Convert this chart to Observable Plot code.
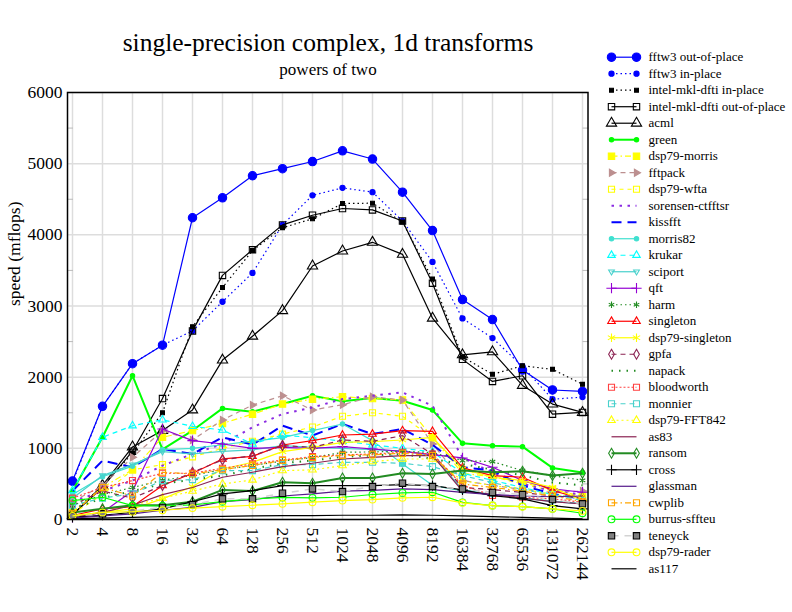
<!DOCTYPE html>
<html><head><meta charset="utf-8">
<script src="https://cdn.jsdelivr.net/npm/d3@7"></script>
<script src="https://cdn.jsdelivr.net/npm/@observablehq/plot@0.6"></script>
<style>
body{margin:0;background:#fff;}
#wrap{position:relative;width:792px;height:612px;font-family:"Liberation Serif","Times New Roman",serif;color:#000;overflow:hidden;}
#wrap svg, #wrap svg text{font-family:"Liberation Serif","Times New Roman",serif !important;}
.t{position:absolute;white-space:nowrap;transform:translateX(-50%);line-height:normal;}
#main{position:absolute;left:0;top:0;}
#legend{position:absolute;left:600px;top:40px;}
</style></head><body>
<div id="wrap">
<div class="t" style="left:328px;top:28px;font-size:25.5px;">single-precision complex, 1d transforms</div>
<div class="t" style="left:328px;top:60px;font-size:17px;">powers of two</div>
<div id="main"></div>
<div id="legend"></div>
</div>
<script>
// ---------------- data ----------------
const sizes = ["2","4","8","16","32","64","128","256","512","1024","2048","4096","8192","16384","32768","65536","131072","262144"];
const yTicks = [0, 1000, 2000, 3000, 4000, 5000, 6000];
const yMinorTicks = [500, 1500, 2500, 3500, 4500, 5500];

const fftw3OutOfPlace = [540, 1590, 2190, 2450, 4240, 4520, 4830, 4930, 5030, 5180, 5065, 4600, 4060, 3090, 2810, 2100, 1820, 1800];
const fftw3InPlace    = [520, 1590, 2190, 2450, 2650, 3060, 3465, 4140, 4555, 4660, 4600, 4195, 3620, 2825, 2550, 2150, 1690, 1720];
const mklInPlace      = [90, 470, 930, 1500, 2710, 3260, 3780, 4100, 4225, 4440, 4445, 4180, 3380, 2285, 2040, 2160, 2110, 1900];
const mklOutOfPlace   = [70, 450, 960, 1700, 2650, 3430, 3790, 4140, 4275, 4370, 4350, 4195, 3320, 2250, 1940, 2020, 1480, 1505];
const acml            = [60, 480, 1020, 1250, 1540, 2240, 2576, 2935, 3562, 3773, 3895, 3726, 2829, 2314, 2356, 1884, 1622, 1505];
const green           = [400, 1155, 2020, 985, 1250, 1561, 1515, 1622, 1739, 1660, 1706, 1669, 1538, 1070, 1038, 1024, 725, 659];
const dsp79Morris     = [100, 450, 700, 1155, 1250, 1350, 1480, 1622, 1690, 1725, 1700, 1680, 1150, 650, 600, 520, 420, 330];
const fftpack         = [250, 477, 874, 1248, 1117, 1398, 1608, 1739, 1538, 1613, 1725, 1678, 1061, 547, 480, 420, 380, 400];
const dsp79Wfta       = [80, 350, 697, 771, 880, 1000, 1100, 1200, 1300, 1450, 1500, 1450, 1150, 700, 600, 500, 400, 320];
const sorensen        = [250, 400, 547, 757, 921, 1061, 1295, 1482, 1575, 1692, 1739, 1786, 1599, 874, 650, 500, 400, 350];
const kissfft         = [400, 827, 734, 991, 921, 1155, 1052, 1318, 1180, 1342, 1201, 1272, 1050, 734, 687, 477, 360, 290];
const morris82        = [350, 600, 750, 980, 1000, 1050, 1100, 1150, 1250, 1342, 1108, 780, 480, 400, 350, 300, 260, 220];
const krukar          = [407, 1155, 1318, 1400, 1309, 1257, 1062, 1187, 1150, 1100, 1050, 1000, 950, 650, 550, 450, 350, 300];
const sciport         = [300, 617, 771, 954, 921, 958, 977, 1038, 1014, 1000, 980, 960, 900, 420, 350, 300, 250, 220];
const qft             = [30, 100, 400, 1272, 1108, 1061, 1000, 1014, 1000, 1024, 991, 958, 912, 865, 734, 547, 430, 383];
const harm            = [200, 350, 450, 550, 620, 700, 760, 820, 870, 944, 950, 960, 940, 827, 813, 687, 617, 550];
const singleton       = [56, 150, 182, 477, 650, 851, 888, 1047, 1108, 1187, 1201, 1248, 1239, 725, 617, 594, 407, 290];
const dsp79Singleton  = [50, 100, 150, 290, 463, 710, 804, 954, 1014, 1085, 1094, 1117, 1155, 710, 594, 547, 453, 266];
const gpfa            = [200, 400, 300, 477, 664, 837, 898, 1038, 1014, 1117, 1099, 1178, 921, 450, 420, 380, 330, 300];
const napack          = [150, 300, 400, 500, 560, 617, 710, 790, 830, 880, 900, 920, 850, 780, 700, 620, 520, 480];
const bloodworth      = [300, 450, 547, 650, 650, 720, 781, 836, 883, 907, 921, 944, 921, 480, 337, 313, 290, 243];
const monnier         = [200, 300, 360, 547, 560, 687, 687, 771, 771, 804, 804, 790, 743, 617, 520, 420, 350, 266];
const dsp79FFT842     = [50, 100, 200, 300, 400, 500, 556, 687, 697, 757, 813, 850, 850, 547, 477, 430, 350, 300];
const as83            = [30, 100, 200, 350, 450, 594, 664, 743, 790, 850, 874, 898, 898, 400, 350, 300, 250, 220];
const ransom          = [100, 150, 200, 200, 250, 416, 400, 524, 510, 584, 584, 650, 640, 687, 664, 678, 617, 650];
const cross           = [30, 60, 100, 150, 250, 360, 407, 477, 477, 477, 477, 491, 477, 416, 336, 290, 196, 150];
const glassman        = [20, 50, 80, 130, 170, 250, 280, 330, 360, 400, 410, 430, 420, 380, 350, 330, 320, 330];
const cwplib          = [80, 450, 330, 664, 640, 700, 760, 830, 870, 900, 910, 930, 900, 500, 450, 400, 330, 250];
const burrusSffteu    = [266, 313, 196, 190, 206, 250, 290, 310, 304, 313, 351, 374, 383, 240, 196, 182, 150, 88];
const teneyck         = [50, 80, 120, 170, 210, 290, 290, 369, 430, 393, 463, 510, 463, 430, 380, 350, 280, 220];
const dsp79Rader      = [50, 100, 110, 130, 160, 180, 200, 220, 243, 266, 280, 304, 313, 234, 196, 180, 150, 120];
const as117           = [10, 20, 30, 40, 40, 45, 50, 55, 55, 60, 60, 65, 60, 50, 40, 30, 20, 10];

const seriesNames = ["fftw3 out-of-place","fftw3 in-place","intel-mkl-dfti in-place","intel-mkl-dfti out-of-place","acml","green","dsp79-morris","fftpack","dsp79-wfta","sorensen-ctfftsr","kissfft","morris82","krukar","sciport","qft","harm","singleton","dsp79-singleton","gpfa","napack","bloodworth","monnier","dsp79-FFT842","as83","ransom","cross","glassman","cwplib","burrus-sffteu","teneyck","dsp79-rader","as117"];
const seriesValues = [fftw3OutOfPlace, fftw3InPlace, mklInPlace, mklOutOfPlace, acml, green, dsp79Morris, fftpack, dsp79Wfta, sorensen, kissfft, morris82, krukar, sciport, qft, harm, singleton, dsp79Singleton, gpfa, napack, bloodworth, monnier, dsp79FFT842, as83, ransom, cross, glassman, cwplib, burrusSffteu, teneyck, dsp79Rader, as117];

// ---------------- styles ----------------
const triRight = {draw(ctx, size){ const s = Math.sqrt(size/Math.PI); ctx.moveTo(s*1.25,0); ctx.lineTo(-s*0.65,s*1.1); ctx.lineTo(-s*0.65,-s*1.1); ctx.closePath(); }};
const triDown = {draw(ctx, size){ const s = Math.sqrt(size/Math.PI); ctx.moveTo(0,s*1.25); ctx.lineTo(s*1.1,-s*0.65); ctx.lineTo(-s*1.1,-s*0.65); ctx.closePath(); }};
const YEL = "#ffff00", TURQ = "#40e0d0", FG = "#228b22";
const styles = [
  {c:"#0000ff", w:1.2, d:null,      sym:"circle",  r:4.2, fill:true},
  {c:"#0000ff", w:1.2, d:"1.5,3",   sym:"circle",  r:2.6, fill:true},
  {c:"#000000", w:1.2, d:"1.5,3",   sym:"square",  r:2.2, fill:true},
  {c:"#000000", w:1.2, d:null,      sym:"square",  r:3.6, fill:false},
  {c:"#000000", w:1.2, d:null,      sym:"triangle",r:3.8, fill:false},
  {c:"#00ff00", w:2,   d:null,      sym:"circle",  r:2.2, fill:true},
  {c:YEL,       w:1.2, d:"6,3,1.5,3",sym:"square", r:3.6, fill:true},
  {c:"#bc8f8f", w:1.2, d:"5,4",     sym:triRight,  r:3.2, fill:true},
  {c:YEL,       w:1.2, d:"4,4",     sym:"square",  r:3.4, fill:false},
  {c:"#8a2be2", w:2,   d:"2.5,5.5", sym:null},
  {c:"#0000ff", w:2,   d:"10,6",    sym:null},
  {c:TURQ,      w:1.2, d:null,      sym:"circle",  r:2.2, fill:true},
  {c:"#00ffff", w:1.2, d:"5,4",     sym:"triangle",r:2.8, fill:false},
  {c:"#48d1cc", w:1.2, d:null,      sym:triDown,   r:2.6, fill:false},
  {c:"#9400d3", w:1.2, d:null,      sym:"plus",    r:3.4, fill:false},
  {c:FG,        w:1.2, d:"1.5,3",   sym:"asterisk",r:3,   fill:false},
  {c:"#ff0000", w:1.2, d:null,      sym:"triangle",r:2.8, fill:false},
  {c:YEL,       w:1.2, d:null,      sym:"asterisk",r:4,   fill:false},
  {c:"#8b2252", w:1.2, d:"5,4",     sym:"diamond", r:3,   fill:false},
  {c:FG,        w:2,   d:"1.5,6",   sym:null},
  {c:"#ff4040", w:1.2, d:"2,2",     sym:"square",  r:3.4, fill:false},
  {c:"#48d1cc", w:1.2, d:"5,4",     sym:"square",  r:3.4, fill:false},
  {c:YEL,       w:1.2, d:"2,3",     sym:"triangle",r:2.8, fill:false},
  {c:"#8b2252", w:1.2, d:null,      sym:null},
  {c:FG,        w:2,   d:null,      sym:"diamond", r:3,   fill:false},
  {c:"#000000", w:1.2, d:null,      sym:"plus",    r:3.4, fill:false},
  {c:"#551a8b", w:1.2, d:null,      sym:null},
  {c:"#ffa500", w:1.2, d:"6,3,1.5,3",sym:"square", r:3.4, fill:false},
  {c:"#00ff00", w:1.2, d:null,      sym:"circle",  r:3.4, fill:false},
  {c:"#d3d3d3", w:1.5, d:"7,6",     sym:"square",  r:3.6, fill:"#808080", stroke:"#000"},
  {c:YEL,       w:1.2, d:null,      sym:"circle",  r:3.4, fill:false},
  {c:"#000000", w:1.2, d:null,      sym:null}
];

// ---------------- tidy rows ----------------
const rows = seriesNames.flatMap((name, k) => seriesValues[k].map((v, i) => ({series: name, size: sizes[i], value: v})));

function seriesMarks(data, xKey, yKey, st) {
  const m = [Plot.line(data, {x: xKey, y: yKey, stroke: st.c, strokeWidth: st.w, strokeDasharray: st.d || undefined, strokeLinecap: "butt", strokeLinejoin: "round"})];
  if (st.sym) {
    const filled = st.fill;
    m.push(Plot.dot(data, {
      x: xKey, y: yKey, symbol: st.sym, r: st.r,
      fill: filled ? (typeof filled === "string" ? filled : st.c) : "none",
      stroke: st.stroke || st.c, strokeWidth: 1.1
    }));
  }
  return m;
}

const lineMarks = seriesNames.flatMap((name, k) => seriesMarks(rows.filter(d => d.series === name), "size", "value", styles[k]));
const FONT = "'Liberation Serif', 'Times New Roman', serif";

const main = Plot.plot({
  width: 600, height: 612,
  marginLeft: 67, marginRight: 12.5, marginTop: 92, marginBottom: 93,
  style: {fontFamily: FONT, fontSize: "17.5px", background: "transparent", color: "#000", overflow: "visible"},
  x: {type: "point", domain: sizes, padding: 0},
  y: {domain: [0, 6000]},
  marks: [
    Plot.gridX({stroke: "#dddddd", strokeOpacity: 1, strokeWidth: 1.5}),
    Plot.gridY(yTicks, {stroke: "#dddddd", strokeOpacity: 1, strokeWidth: 1.5}),
    Plot.axisY(yMinorTicks, {anchor: "left", tickSize: -6, tickFormat: () => "", stroke: "#bbbbbb", label: null}),
    Plot.axisY(yMinorTicks, {anchor: "right", tickSize: -6, tickFormat: () => "", stroke: "#bbbbbb", label: null}),
    ...lineMarks,
    Plot.axisY(yTicks, {anchor: "left", tickSize: 0, tickPadding: 5, label: null, tickFormat: d => String(d), fontFamily: FONT}),
    Plot.axisX({anchor: "bottom", tickSize: 0, tickPadding: 8, tickRotate: 90, label: null, fontFamily: FONT}),
    Plot.text(["speed (mflops)"], {frameAnchor: "left", dx: -53, rotate: -90, fontSize: 17.5, fontFamily: FONT}),
    Plot.frame({stroke: "#000", strokeWidth: 1.5})
  ]
});
document.getElementById("main").appendChild(main);

// ---------------- legend ----------------
const legendRows = seriesNames.map((name, i) => ({name, i, x: 1}));
const legendMarks = seriesNames.flatMap((name, i) => seriesMarks([{x: 0, y: i}, {x: 1, y: i}], "x", "y", styles[i]));
const legend = Plot.plot({
  width: 192, height: 560, margin: 0,
  style: {fontFamily: FONT, fontSize: "13px", background: "transparent", color: "#000", overflow: "visible"},
  x: {domain: [0, 1], range: [11, 36], axis: null},
  y: {domain: [0, seriesNames.length - 1], range: [16.7, 528.3], axis: null},
  marks: [
    ...legendMarks,
    Plot.text(legendRows, {x: "x", y: "i", text: "name", dx: 12, textAnchor: "start", fontSize: 13, fontFamily: FONT})
  ]
});
document.getElementById("legend").appendChild(legend);
</script>
</body></html>
